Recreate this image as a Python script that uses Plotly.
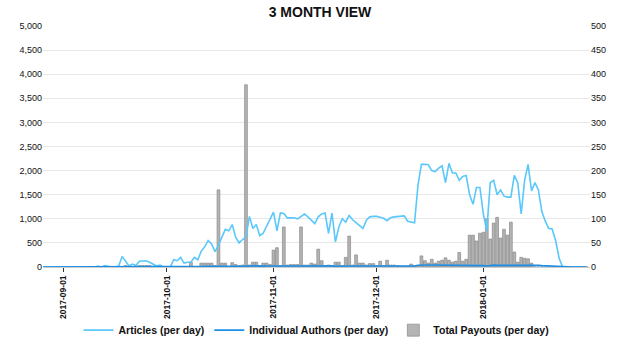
import pandas as pd
import plotly.graph_objects as go

# Daily dates (2017-08-26 .. 2018-01-31)
dates = pd.date_range("2017-08-26", "2018-01-31", freq="D")

# Articles (per day) - left axis
articles = (
    [0, 0, 0, 0, 0, 0] +                                   # Aug 26-31
    [0, 0, 0, 0, 0, 0, 0, 0, 10, 0,
     20, 0, 30, 10, 0, 0, 20, 220, 120, 20,
     60, 30, 120, 130, 130, 100, 60, 20, 40, 0] +           # Sep
    [0, 0, 150, 130, 200, 80, 100, 100, 200, 150,
     330, 420, 550, 480, 320, 450, 620, 780, 750, 880,
     620, 500, 570, 620, 1050, 800, 880, 650, 700, 850,
     1000] +                                                # Oct
    [1140, 750, 1120, 1110, 1020, 1020, 1020, 1000, 1050, 1100,
     1040, 980, 900, 1040, 1100, 1120, 700, 1120, 520, 830,
     1000, 930, 1070, 980, 920, 870, 800, 970, 1040, 1050] + # Nov
    [1050, 1030, 1010, 960, 1020, 1040, 1050, 1050, 1060, 950,
     930, 920, 1700, 2130, 2130, 2120, 2000, 1980, 2050, 2100,
     1750, 2150, 1950, 1950, 1800, 1880, 1900, 1500, 1300, 1650,
     1650] +                                                # Dec
    [1100, 750, 1750, 1800, 1500, 1600, 1470, 1450, 1450, 1900,
     1750, 1100, 1800, 2130, 1580, 1750, 1600, 1150, 950, 800,
     790, 550, 190, 0, 0, 0, 0, 0, 0, 0,
     0]                                                     # Jan
)

# Individual Authors (per day) - left axis
authors = (
    [0] * 22 +
    [2, 8, 5, 2, 4, 3, 6, 6, 6, 5, 4, 2, 3, 0, 0, 0, 7, 6, 8, 4, 5, 5, 8, 7] +
    [12, 14, 16, 15, 12, 14, 18, 20, 19, 21,
     17, 15, 16, 18, 24, 20, 21, 18, 19, 20,
     22, 24, 19, 23, 23, 22, 22, 21, 21, 22,
     23, 22, 21, 20, 22, 23, 23, 18, 23, 15,
     19, 22, 21, 23, 22, 21, 20, 19, 21, 22,
     22, 22, 22, 21, 20, 21, 22, 22, 22, 22,
     21, 21, 20] +
    [35, 42, 42, 42, 40, 40, 41,
     42, 37, 42, 40, 40, 38, 39, 39, 34, 31,
     36, 36, 28, 22, 37, 38, 34, 35, 33, 33,
     33, 38, 37, 28, 37, 42, 35, 37, 35, 28,
     24, 21, 21, 15, 6] +
    [0] * 8
)

# Total Payouts (per day) - right axis
payouts = (
    [0] * 6 +
    [0] * 10 +
    [0, 0, 0, 0, 0, 0, 0, 0, 3, 0] +
    [0, 0, 3, 3, 3, 3, 0, 0, 0, 0] +
    [0, 0, 0, 0, 0, 0, 0, 10, 0, 0] +
    [8, 8, 8, 8, 3, 160, 8, 8, 0, 9] +
    [5, 3, 4, 378, 4, 10, 10, 3, 8, 8] +
    [5, 35, 40, 3, 83, 4, 5, 5, 5, 83] +
    [4, 4, 8, 6, 37, 13, 2, 4, 2, 10] +
    [10, 3, 20, 64, 4, 25, 8, 8, 4, 7] +
    [7, 3, 12, 3, 14, 4, 4, 3, 2, 2] +
    [2, 6, 3, 3, 23, 13, 8, 16, 8, 12] +
    [14, 19, 14, 10, 12, 30, 12, 16, 66, 66] +
    [54, 70, 72, 100, 58, 91, 103, 60, 78, 66] +
    [93, 31, 10, 20, 18, 17, 8, 0, 0, 0] +
    [0] * 13
)

tick_dates = ["2017-09-01", "2017-10-01", "2017-11-01", "2017-12-01", "2018-01-01"]

FONT = "Liberation Sans, Arial, sans-serif"

fig = go.Figure()
fig.add_trace(go.Scatter(
    x=dates, y=articles, name="Articles (per day)", mode="lines",
    line=dict(color="#5ac8fa", width=1.6), yaxis="y2"))
fig.add_trace(go.Scatter(
    x=dates, y=authors, name="Individual Authors (per day)", mode="lines",
    line=dict(color="#1b8fe8", width=1.6), yaxis="y2"))
fig.add_trace(go.Bar(
    x=dates, y=payouts, name="Total Payouts (per day)",
    marker=dict(color="#b4b4b4", line=dict(color="#888888", width=0.7)),
    yaxis="y"))

fig.update_layout(
    width=640, height=357,
    margin=dict(l=43, r=50, t=26, b=90, autoexpand=False),
    paper_bgcolor="white", plot_bgcolor="white",
    font=dict(family=FONT, color="#111", size=9),
    title=dict(text="<b>3 MONTH VIEW</b>", x=0.5, xref="container",
               y=0.965, yref="container", yanchor="middle",
               font=dict(size=14, color="#111")),
    bargap=0.2,
    showlegend=True,
    legend=dict(orientation="h", x=0.5, xanchor="center", y=-0.262, yanchor="middle",
                bgcolor="rgba(0,0,0,0)",
                font=dict(size=10.5, color="#111", weight="bold"), traceorder="normal"),
    xaxis=dict(
        type="date", range=["2017-08-26", "2018-02-01"], automargin=False,
        tickvals=tick_dates, ticktext=tick_dates, tickangle=-90,
        ticks="outside", ticklen=4, tickcolor="#333",
        showgrid=False, showline=True, linecolor="#cccccc",
        tickfont=dict(size=8.5, color="#111", weight="bold"), zeroline=False),
    yaxis=dict(
        side="right", range=[0, 500], dtick=50, tickformat=",", automargin=False,
        showgrid=True, gridcolor="#e8e8e8", gridwidth=1,
        zeroline=False, tickfont=dict(size=9, color="#111"), ticks=""),
    yaxis2=dict(
        side="left", overlaying="y", range=[0, 5000], dtick=500, tickformat=",",
        automargin=False,
        showgrid=False, zeroline=False, tickfont=dict(size=9, color="#111"), ticks=""),
)

fig.write_html("out.html", config={"displayModeBar": False},
               post_script="document.body.style.margin='0';")
